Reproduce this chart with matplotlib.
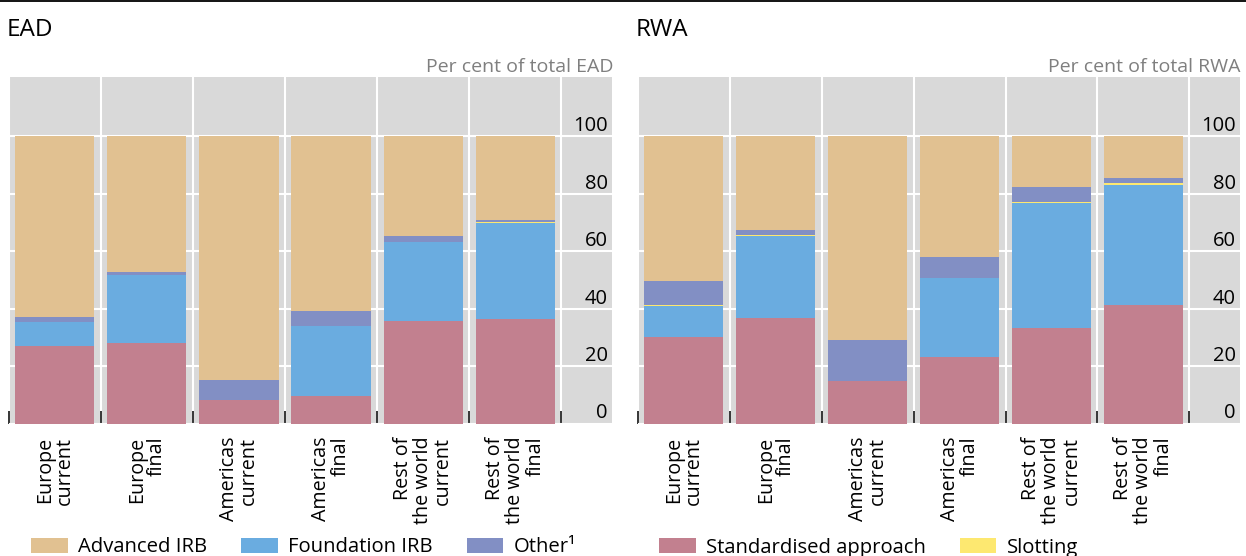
import matplotlib
matplotlib.use("Agg")
import matplotlib.pyplot as plt
import numpy as np
from matplotlib.lines import Line2D

plt.rcParams['font.family'] = ['Open Sans', 'DejaVu Sans']

# categories (same for both panels)
categories = ["Europe\ncurrent", "Europe\nfinal", "Americas\ncurrent", "Americas\nfinal",
              "Rest of\nthe world\ncurrent", "Rest of\nthe world\nfinal"]

# EAD shares, per cent (stack order: SA, FIRB, Slotting, Other, AIRB)
ead_sa = [26.9, 27.9, 8.2, 9.6, 35.6, 36.3]
ead_firb = [8.3, 23.7, 0.0, 24.2, 27.4, 33.5]
ead_slot = [0.3, 0.0, 0.0, 0.0, 0.3, 0.3]
ead_other = [1.5, 1.0, 7.0, 5.3, 1.8, 0.9]
ead_airb = [63.0, 47.4, 84.8, 60.9, 34.9, 29.0]

# RWA shares, per cent
rwa_sa = [30.0, 36.7, 14.7, 23.1, 33.1, 41.1]
rwa_firb = [10.9, 28.4, 0.0, 27.4, 43.6, 41.8]
rwa_slot = [0.3, 0.6, 0.0, 0.0, 0.35, 0.7]
rwa_other = [8.3, 1.5, 14.3, 7.3, 5.1, 2.0]
rwa_airb = [50.5, 32.8, 71.0, 42.2, 17.8, 14.4]

yticks = [0, 20, 40, 60, 80, 100]

col_airb = '#e1c191'
col_firb = '#6aace0'
col_other = '#828fc4'
col_sa = '#c2808f'
col_slot = '#fde870'
grey = '#d9d9d9'

W, H = 1246, 556
fig = plt.figure(figsize=(W / 100, H / 100), dpi=100)

bottom_px, top_px = 423.5, 77
ax1 = fig.add_axes([8.7 / W, 1 - bottom_px / H, 603.3 / W, (bottom_px - top_px) / H])
ax2 = fig.add_axes([637.7 / W, 1 - bottom_px / H, 602.3 / W, (bottom_px - top_px) / H])


def draw_panel(ax, sa, firb, slot, other, airb):
    x = np.arange(len(categories))
    bottom = np.zeros(len(categories))
    handles = {}
    for name, vals, col in [('sa', sa, col_sa), ('firb', firb, col_firb), ('slot', slot, col_slot),
                            ('other', other, col_other), ('airb', airb, col_airb)]:
        handles[name] = ax.bar(x, vals, width=0.86, bottom=bottom, color=col, linewidth=0, zorder=2)
        bottom += np.array(vals)

    ax.set_facecolor(grey)
    ax.set_xlim(-0.5, 6.05)
    ax.set_ylim(0, 120.6)
    for s in ax.spines.values():
        s.set_visible(False)

    # grid: white lines between categories and at every 20
    ax.set_axisbelow(True)
    ax.set_xticks(np.arange(-0.5, 6, 1), minor=True)
    ax.xaxis.grid(True, which='minor', color='white', linewidth=1.5)
    ax.yaxis.grid(True, color='white', linewidth=1.5)

    ax.set_xticks(x, categories, rotation=90, ha='center', va='top', multialignment='right',
                  fontsize=14.2, linespacing=1.0)
    ax.tick_params(axis='x', which='major', length=0, pad=9.5)
    ax.tick_params(axis='x', which='minor', direction='in', length=9.5, width=1.1, color='black')

    ax.yaxis.tick_right()
    ax.set_yticks(yticks, [str(v) for v in yticks], ha='right', va='bottom', fontsize=14.5)
    ax.tick_params(axis='y', length=0, pad=-3)
    return handles


h1 = draw_panel(ax1, ead_sa, ead_firb, ead_slot, ead_other, ead_airb)
h2 = draw_panel(ax2, rwa_sa, rwa_firb, rwa_slot, rwa_other, rwa_airb)

# titles
fig.text(7 / W, 1 - 36 / H, 'EAD', fontsize=17.5, va='baseline', ha='left')
fig.text(636 / W, 1 - 36 / H, 'RWA', fontsize=17.5, va='baseline', ha='left')
fig.text(613 / W, 1 - 72 / H, 'Per cent of total EAD', fontsize=14, color='#7f7f7f',
         va='baseline', ha='right')
fig.text(1240.5 / W, 1 - 72 / H, 'Per cent of total RWA', fontsize=14, color='#7f7f7f',
         va='baseline', ha='right')

# black rule on top
fig.add_artist(Line2D([0, 1], [1 - 1 / H, 1 - 1 / H], color='black', linewidth=1.3,
                      transform=fig.transFigure))

leg_kw = dict(loc='center left', bbox_transform=fig.transFigure, frameon=False, fontsize=14.6,
              handlelength=1.8, handleheight=0.7, handletextpad=0.5, columnspacing=1.7,
              borderpad=0, borderaxespad=0)
fig.legend([h1['airb'], h1['firb'], h1['other']], ['Advanced IRB', 'Foundation IRB', 'Other¹'],
           ncol=3, bbox_to_anchor=(31 / W, 1 - 547.5 / H), **leg_kw)
fig.legend([h1['sa'], h1['slot']], ['Standardised approach', 'Slotting'],
           ncol=2, bbox_to_anchor=(659 / W, 1 - 547.5 / H), **leg_kw)

fig.savefig('out.png', dpi=100)
